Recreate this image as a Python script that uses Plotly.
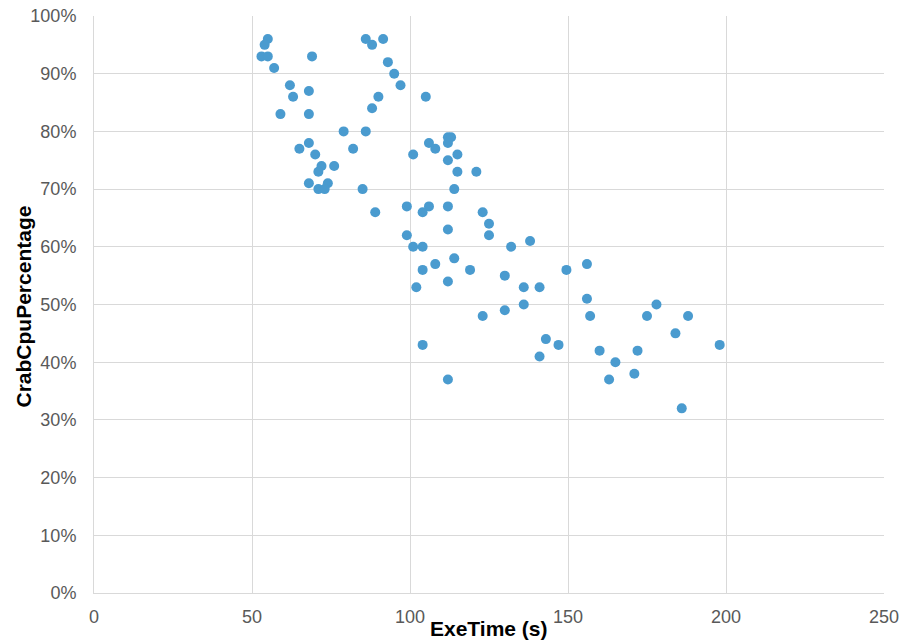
import plotly.graph_objects as go

exe_time = [55, 54, 53, 55, 69, 57, 62, 63, 68, 59, 68, 79, 86, 68, 65, 82, 70, 101,
            72, 71, 76, 68, 74, 71, 73, 85, 86, 88, 91.5, 93, 95, 97, 90, 88, 99, 89,
            105, 112, 113, 112, 106, 108, 115, 112, 115, 121, 114, 106, 104, 112, 123,
            125, 125, 112, 99, 101, 104, 132, 138, 114, 104, 108, 119, 130, 149.5, 112,
            102, 136, 141, 104, 112, 123, 130, 136, 143, 147, 141, 156, 156, 157, 160,
            165, 163, 171, 172, 175, 178, 184, 188, 186, 198]
cpu_pct = [96, 95, 93, 93, 93, 91, 88, 86, 87, 83, 83, 80, 80, 78, 77, 77, 76, 76,
           74, 73, 74, 71, 71, 70, 70, 70, 96, 95, 96, 92, 90, 88, 86, 84, 67, 66,
           86, 79, 79, 78, 78, 77, 76, 75, 73, 73, 70, 67, 66, 67, 66,
           64, 62, 63, 62, 60, 60, 60, 61, 58, 56, 57, 56, 55, 56, 54,
           53, 53, 53, 43, 37, 48, 49, 50, 44, 43, 41, 57, 51, 48, 42,
           40, 37, 38, 42, 48, 50, 45, 48, 32, 43]
cpu_frac = [v / 100 for v in cpu_pct]

x_ticks = [0, 50, 100, 150, 200, 250]
y_ticks = [i / 10 for i in range(11)]

fig = go.Figure(go.Scatter(
    x=exe_time, y=cpu_frac, mode="markers",
    marker=dict(color="#4a9bcf", size=10, line=dict(width=0)),
    showlegend=False,
))

grid = "#d9d9d9"
tickfont = dict(family="Liberation Sans, Arial, sans-serif", size=18, color="#595959")
titlefont = dict(family="Liberation Sans, Arial, sans-serif", size=21, color="black")

fig.update_layout(
    width=903, height=643,
    margin=dict(l=94, r=19, t=16, b=50, autoexpand=False),
    paper_bgcolor="white", plot_bgcolor="white",
    xaxis=dict(range=[0, 250], tickvals=x_ticks, showgrid=True, gridcolor=grid,
               gridwidth=1, zeroline=False, showline=True, linecolor=grid,
               ticks="", tickfont=tickfont, automargin=False, ticklabelstandoff=7),
    yaxis=dict(range=[0, 1], tickvals=y_ticks, tickformat=".0%", showgrid=True,
               gridcolor=grid, gridwidth=1, zeroline=False, showline=True,
               linecolor=grid, ticks="", tickfont=tickfont, automargin=False,
               ticklabelstandoff=13),
    annotations=[
        dict(text="<b>ExeTime (s)</b>", xref="paper", yref="paper", x=0.5, y=0,
             yshift=-35, xanchor="center", yanchor="middle", showarrow=False,
             font=titlefont),
        dict(text="<b>CrabCpuPercentage</b>", xref="paper", yref="paper", x=0, y=0.5,
             xshift=-71, yshift=-2, xanchor="center", yanchor="middle", textangle=-90,
             showarrow=False, font=titlefont),
    ],
)

fig.write_html("out.html")
